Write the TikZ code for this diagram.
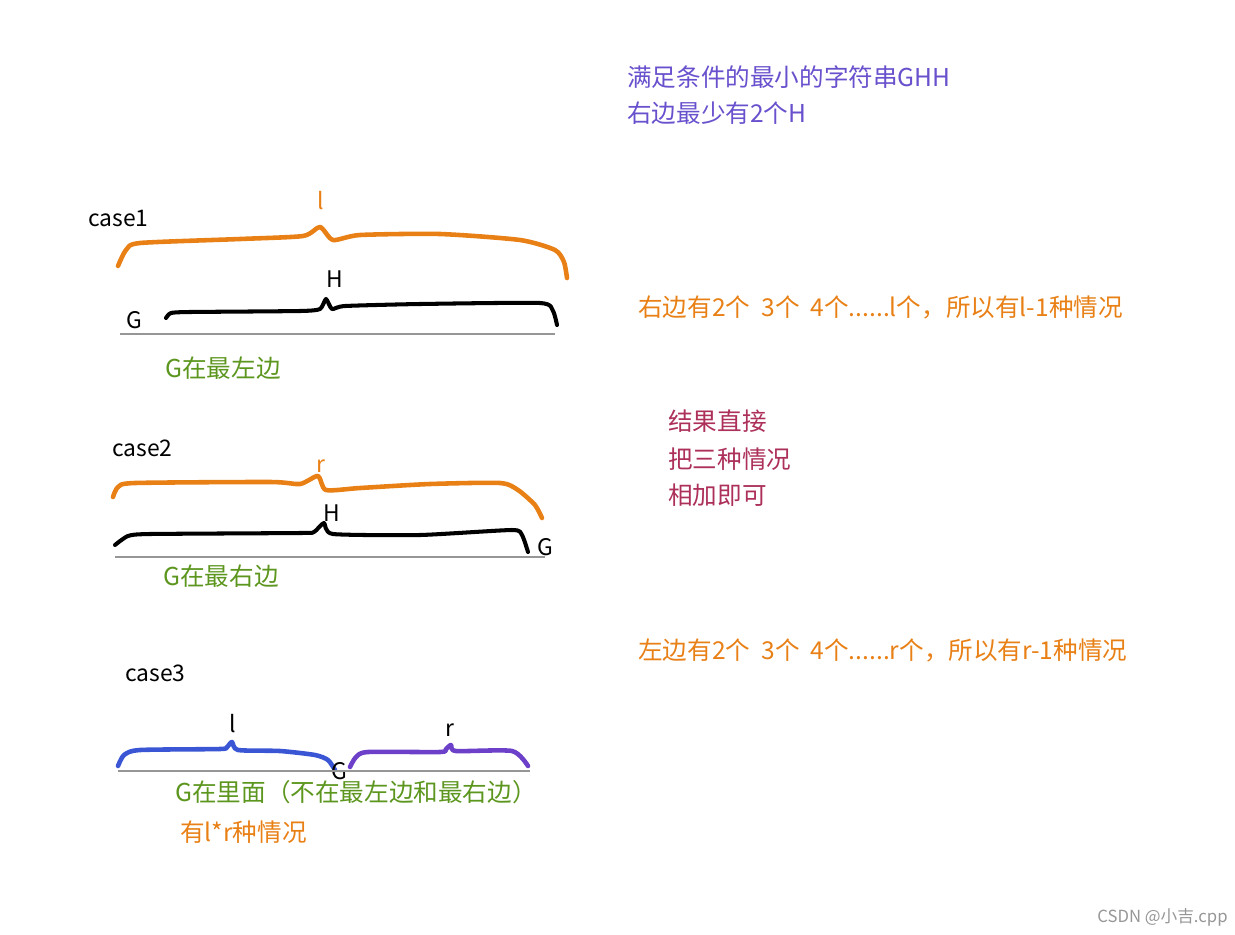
\documentclass[tikz,border=0pt]{standalone}
\usepackage{fontspec}
\setmainfont{Noto Sans CJK SC}
\usetikzlibrary{calc}
\newcommand{\BRACEPT}{2.6pt}
\newcommand{\LINEPT}{2.3pt}
\definecolor{myviolet}{RGB}{105,80,205}
\definecolor{myorange}{RGB}{232,128,22}
\definecolor{mygreen}{RGB}{92,150,30}
\definecolor{mycrimson}{RGB}{172,48,90}
\definecolor{myblue}{RGB}{58,86,212}
\definecolor{mypurple}{RGB}{108,64,200}
\definecolor{mygray}{RGB}{150,150,150}

\begin{document}
\begin{tikzpicture}[x=0.02cm,y=-0.02cm,
	txt/.style={anchor=west,inner sep=0pt,font=\fontsize{14}{16}\selectfont},
	hand/.style={anchor=west,inner sep=0pt,font=\fontsize{13}{15}\selectfont},
	brace/.style={line width=\BRACEPT,line cap=round,line join=round},
	base/.style={color=mygray,line width=1.2pt}]
	\useasboundingbox (0,0) rectangle (1235,934);

		%% top remark
		\node[txt,color=myviolet] (cond) at (627,77) {满足条件的最小的字符串GHH};
		\node[txt,color=myviolet] (least) at (627,113) {右边最少有2个H};

		%% case1
		\node[hand] (case1) at (88,218) {case1};
		\node[hand,color=myorange] (l1) at (317,201) {l};
		\draw[brace,color=myorange] plot[smooth,tension=0.4] coordinates {(118,266) (126,250) (140,243) (240,239) (303,236) (320,227) (333,240) (360,235) (440,234) (520,240) (555,250) (564,262) (567,278)};
		\node[hand] (h1) at (326,279) {H};
		\draw[brace,line width=\LINEPT] plot[smooth,tension=0.35] coordinates {(166,318) (171,313) (190,312) (300,311) (320,309) (326,299) (332,309) (345,306) (420,304) (540,303) (553,311) (557,325)};
		\node[hand] (g1) at (126,320) {G};
		\draw[base] (120,334) -- (555,334);
		\node[txt,color=mygreen] (left1) at (165,368) {G在最左边};
		\node[txt,color=myorange] (count1) at (638,307) {右边有2个\ \ 3个\ \ 4个......l个，所以有l-1种情况};

		%% summary
		\node[txt,color=mycrimson] (sum1) at (668,421) {结果直接};
		\node[txt,color=mycrimson] (sum2) at (668,459) {把三种情况};
		\node[txt,color=mycrimson] (sum3) at (668,495) {相加即可};

		%% case2
		\node[hand] (case2) at (112,448) {case2};
		\node[hand,color=myorange] (r2) at (316,466) {r};
		\draw[brace,color=myorange] plot[smooth,tension=0.4] coordinates {(113,497) (118,487) (135,483) (270,482) (300,484) (318,476) (326,490) (360,488) (430,484) (500,483) (518,490) (535,505) (542,518)};
		\node[hand] (h2) at (323,513) {H};
		\draw[brace,line width=\LINEPT] plot[smooth,tension=0.35] coordinates {(115,545) (128,536) (150,534) (300,533) (314,532) (324,523) (333,534) (420,535) (512,530) (522,535) (528,552)};
		\node[hand] (g2) at (537,547) {G};
		\draw[base] (115,557) -- (545,557);
		\node[txt,color=mygreen] (right2) at (163,576) {G在最右边};
		\node[txt,color=myorange] (count2) at (638,650) {左边有2个\ \ 3个\ \ 4个......r个，所以有r-1种情况};

		%% case3
		\node[hand] (case3) at (125,673) {case3};
		\node[hand] (l3) at (229,724) {l};
		\draw[brace,color=myblue] plot[smooth,tension=0.4] coordinates {(118,766) (124,755) (140,750) (220,749) (227,747) (232,742) (238,750) (280,751) (315,755) (328,760) (335,770)};
		\node[hand] (r3) at (445,730) {r};
		\draw[brace,color=mypurple] plot[smooth,tension=0.4] coordinates {(350,767) (356,757) (368,752) (440,752) (446,749) (451,745) (456,751) (512,751) (528,766)};
		\node[hand] (g3) at (331,771) {G};
		\draw[base] (118,771) -- (530,771);
		\node[txt,color=mygreen] (inner3) at (175,792) {G在里面（不在最左边和最右边）};
		\node[txt,color=myorange] (count3) at (180,832) {有l*r种情况};

		%% watermark
		\node[anchor=west,inner sep=0pt,color=mygray,font=\fontsize{9.5}{11}\selectfont] (mark) at (1097,917) {CSDN @小吉.cpp};

	\end{tikzpicture}
\end{document}
